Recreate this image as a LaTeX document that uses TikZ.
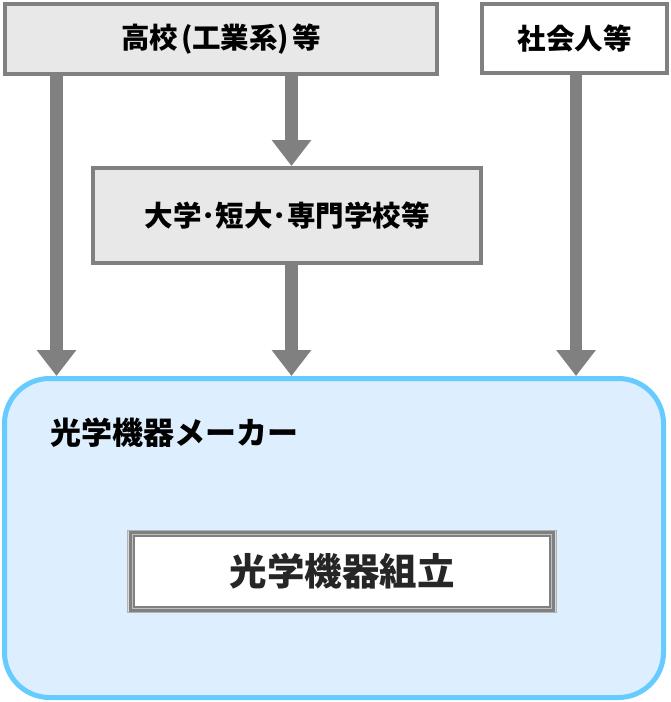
\documentclass[tikz,border=0pt]{standalone}
\usepackage{fontspec}
\newfontfamily\cjk{Noto Sans CJK JP}
\usetikzlibrary{arrows.meta}
\definecolor{boxgray}{HTML}{808080}
\definecolor{boxfill}{HTML}{E8E8E8}
\definecolor{makerfill}{HTML}{DDEEFF}
\definecolor{makerline}{HTML}{66CCFF}
\tikzset{
  srcbox/.style={draw=boxgray, line width=4pt, rectangle, inner sep=0pt,
    font=\cjk\bfseries\fontsize{28.5}{28.5}\selectfont},
  flow/.style={draw=boxgray, line width=12.5pt,
    -{Triangle[width=38pt,length=26pt]}, boxgray},
}
\begin{document}
\begin{tikzpicture}[x=1pt,y=-1pt]
\useasboundingbox (0,0) rectangle (670,702);
% boxes
\node[srcbox, fill=boxfill, minimum width=432pt, minimum height=70pt] (hs) at (221,39) {高校\kern3pt(工業系)\kern3pt等};
\node[srcbox, fill=white, minimum width=185pt, minimum height=69pt] (wk) at (574.5,38.5) {社会人等};
\node[srcbox, fill=boxfill, minimum width=388pt, minimum height=95pt] (un) at (287,215.5) {大学･短大･専門学校等};
\node[draw=makerline, fill=makerfill, line width=5pt, rounded corners=45pt,
  minimum width=659pt, minimum height=319pt, inner sep=0pt] (mk) at (334,538) {};
\node[anchor=west, inner sep=0pt, font=\cjk\bfseries\fontsize{31}{31}\selectfont] (mkl) at (50,433) {光学機器メーカー};
% inner double-framed box
\draw[draw=lightgray!80!gray, fill=lightgray!60, line width=1pt] (127.5,530.5) rectangle (556.5,612.5);
\node[draw=boxgray, fill=white, line width=6pt, minimum width=420pt, minimum height=75pt, inner sep=0pt,
  text=black!85, font=\cjk\bfseries\fontsize{37.5}{37.5}\selectfont] (asm) at (342,571.5) {光学機器組立};
\draw[lightgray, line width=0.8pt] ([shift={(3.4pt,-3.4pt)}]asm.north west) rectangle ([shift={(-3.4pt,3.4pt)}]asm.south east);
% arrows
\coordinate (x1) at (56.5,0);
\coordinate (x2) at (291.5,0);
\coordinate (x3) at (576,0);
\draw[flow] (hs.south -| x1) -- (mk.north -| x1);
\draw[flow] (hs.south -| x2) -- (un.north -| x2);
\draw[flow] (un.south -| x2) -- (mk.north -| x2);
\draw[flow] (wk.south -| x3) -- (mk.north -| x3);
\end{tikzpicture}
\end{document}
